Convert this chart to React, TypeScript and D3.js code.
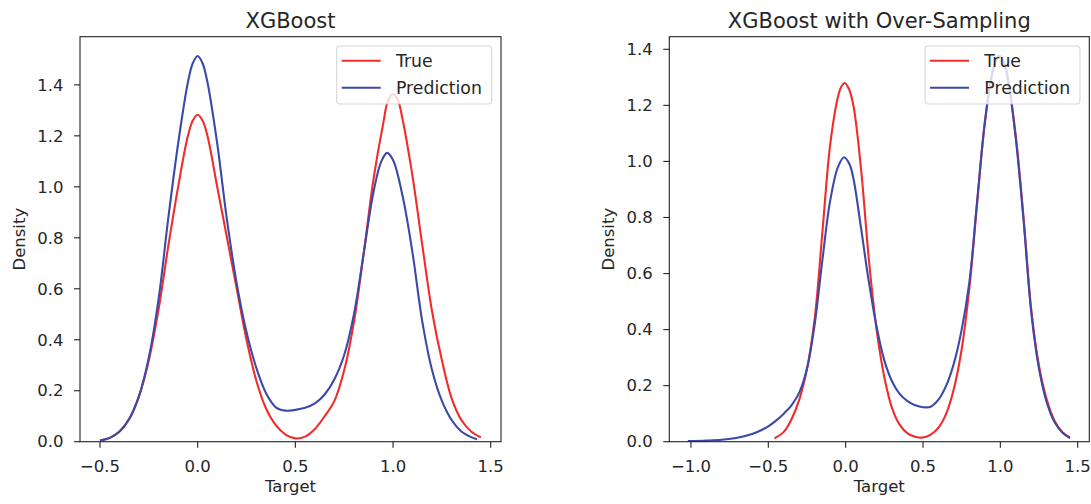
import React from "react";
import * as d3 from "d3";

// ---------- data ----------
const leftTrueX = [-0.5, -0.45, -0.4, -0.35, -0.3, -0.25, -0.2, -0.15, -0.1, -0.05, -0.025, 0, 0.025, 0.05, 0.1, 0.15, 0.2, 0.25, 0.3, 0.35, 0.4, 0.45, 0.5, 0.55, 0.6, 0.65, 0.7, 0.75, 0.8, 0.85, 0.9, 0.95, 0.975, 1.0, 1.025, 1.05, 1.1, 1.15, 1.2, 1.25, 1.3, 1.35, 1.4, 1.45];
const leftTrueY = [0.005, 0.015, 0.04, 0.09, 0.18, 0.32, 0.52, 0.77, 1.0, 1.2, 1.26, 1.283, 1.26, 1.2, 1.0, 0.8, 0.6, 0.4, 0.24, 0.13, 0.065, 0.028, 0.013, 0.02, 0.05, 0.1, 0.16, 0.28, 0.47, 0.74, 1.03, 1.25, 1.34, 1.364, 1.34, 1.26, 1.04, 0.77, 0.51, 0.32, 0.17, 0.085, 0.04, 0.017];

const leftPredX = [-0.5, -0.45, -0.4, -0.35, -0.3, -0.25, -0.2, -0.15, -0.1, -0.05, -0.025, 0, 0.025, 0.05, 0.1, 0.15, 0.2, 0.25, 0.3, 0.35, 0.4, 0.45, 0.5, 0.55, 0.6, 0.65, 0.7, 0.75, 0.8, 0.85, 0.9, 0.94, 0.97, 1.0, 1.05, 1.1, 1.15, 1.2, 1.25, 1.3, 1.35, 1.4, 1.43];
const leftPredY = [0.005, 0.015, 0.04, 0.09, 0.18, 0.33, 0.56, 0.88, 1.17, 1.41, 1.485, 1.513, 1.485, 1.41, 1.17, 0.87, 0.62, 0.43, 0.29, 0.19, 0.135, 0.122, 0.125, 0.133, 0.15, 0.185, 0.245, 0.34, 0.5, 0.74, 0.98, 1.1, 1.133, 1.105, 0.96, 0.74, 0.47, 0.28, 0.16, 0.085, 0.04, 0.018, 0.01];

const rightTrueX = [-0.46, -0.4, -0.35, -0.3, -0.25, -0.2, -0.15, -0.1, -0.05, -0.03, -0.007, 0.02, 0.05, 0.1, 0.15, 0.2, 0.25, 0.3, 0.35, 0.4, 0.45, 0.5, 0.55, 0.6, 0.65, 0.7, 0.75, 0.8, 0.85, 0.9, 0.95, 0.975, 1.0, 1.025, 1.05, 1.1, 1.15, 1.2, 1.25, 1.3, 1.35, 1.4, 1.45];
const rightTrueY = [0.012, 0.035, 0.08, 0.15, 0.26, 0.44, 0.75, 1.06, 1.23, 1.265, 1.28, 1.26, 1.2, 0.97, 0.65, 0.4, 0.23, 0.12, 0.06, 0.03, 0.018, 0.015, 0.025, 0.05, 0.1, 0.19, 0.33, 0.55, 0.85, 1.14, 1.32, 1.365, 1.376, 1.35, 1.29, 1.09, 0.8, 0.47, 0.27, 0.15, 0.075, 0.035, 0.015];

const rightPredX = [-1.02, -0.9, -0.8, -0.7, -0.6, -0.55, -0.5, -0.45, -0.4, -0.35, -0.3, -0.25, -0.2, -0.15, -0.1, -0.05, -0.01, 0.025, 0.05, 0.1, 0.15, 0.2, 0.25, 0.3, 0.35, 0.4, 0.45, 0.5, 0.55, 0.6, 0.65, 0.7, 0.75, 0.8, 0.85, 0.9, 0.95, 0.99, 1.025, 1.05, 1.1, 1.15, 1.2, 1.25, 1.3, 1.35, 1.4, 1.45];
const rightPredY = [0.002, 0.004, 0.007, 0.014, 0.028, 0.04, 0.055, 0.075, 0.1, 0.13, 0.175, 0.26, 0.42, 0.65, 0.86, 0.98, 1.015, 0.99, 0.94, 0.76, 0.57, 0.41, 0.29, 0.215, 0.17, 0.145, 0.13, 0.123, 0.125, 0.15, 0.2, 0.28, 0.4, 0.57, 0.86, 1.14, 1.32, 1.376, 1.35, 1.29, 1.08, 0.79, 0.46, 0.26, 0.14, 0.07, 0.033, 0.013];

const titles = ["XGBoost", "XGBoost with Over-Sampling"];
const leftXTicks = [-0.5, 0.0, 0.5, 1.0, 1.5];
const rightXTicks = [-1.0, -0.5, 0.0, 0.5, 1.0, 1.5];
const yTicks = [0.0, 0.2, 0.4, 0.6, 0.8, 1.0, 1.2, 1.4];
const legendLabels = ["True", "Prediction"];
const xLabel = "Target";
const yLabel = "Density";

const RED = "#f22b2b";
const BLUE = "#3b4aa8";
const FONT = "'DejaVu Sans', sans-serif";

type Panel = {
  left: number;
  right: number;
  xDomain: [number, number];
  yMax: number;
  xTicks: number[];
  title: string;
  series: { x: number[]; y: number[]; color: string }[];
};

const TOP = 36.7;
const BOTTOM = 441.7;

const panels: Panel[] = [
  {
    left: 80,
    right: 501,
    xDomain: [-0.6024, 1.5527],
    yMax: 1.589,
    xTicks: leftXTicks,
    title: titles[0],
    series: [
      { x: leftTrueX, y: leftTrueY, color: RED },
      { x: leftPredX, y: leftPredY, color: BLUE },
    ],
  },
  {
    left: 669.3,
    right: 1089.3,
    xDomain: [-1.14, 1.575],
    yMax: 1.445,
    xTicks: rightXTicks,
    title: titles[1],
    series: [
      { x: rightTrueX, y: rightTrueY, color: RED },
      { x: rightPredX, y: rightPredY, color: BLUE },
    ],
  },
];

const fmt = d3.format(".1f");

function PanelView({ p, idx }: { p: Panel; idx: number }) {
  const x = d3.scaleLinear().domain(p.xDomain).range([p.left, p.right]);
  const y = d3.scaleLinear().domain([0, p.yMax]).range([BOTTOM, TOP]);
  const line = d3
    .line<[number, number]>()
    .x((d) => x(d[0]))
    .y((d) => y(d[1]))
    .curve(d3.curveCatmullRom.alpha(0.5));
  const cx = (p.left + p.right) / 2;
  const cy = (TOP + BOTTOM) / 2;
  const legW = 155;
  const legX = p.right - 9.3 - legW;
  const legY = 46;
  const yTicksShown = yTicks.filter((t) => t <= p.yMax);
  return (
    <g>
      <defs>
        <clipPath id={`clip${idx}`}>
          <rect x={p.left} y={TOP} width={p.right - p.left} height={BOTTOM - TOP} />
        </clipPath>
      </defs>
      <g clipPath={`url(#clip${idx})`}>
        {p.series.map((s, i) => (
          <path
            key={i}
            d={line(s.x.map((v, k) => [v, s.y[k]] as [number, number])) || ""}
            fill="none"
            stroke={s.color}
            strokeWidth={2.1}
            strokeLinejoin="round"
            strokeLinecap="butt"
          />
        ))}
      </g>
      <rect
        x={p.left}
        y={TOP}
        width={p.right - p.left}
        height={BOTTOM - TOP}
        fill="none"
        stroke="#222"
        strokeWidth={1.1}
      />
      {p.xTicks.map((t) => (
        <g key={t}>
          <line x1={x(t)} x2={x(t)} y1={BOTTOM} y2={BOTTOM + 6} stroke="#222" strokeWidth={1.1} />
          <text x={x(t)} y={BOTTOM + 30} textAnchor="middle" fontSize={16.5} fill="#262626" fontFamily={FONT}>
            {fmt(t)}
          </text>
        </g>
      ))}
      {yTicksShown.map((t) => (
        <g key={t}>
          <line x1={p.left - 6} x2={p.left} y1={y(t)} y2={y(t)} stroke="#222" strokeWidth={1.1} />
          <text
            x={p.left - 16.5}
            y={y(t)}
            dy="0.35em"
            textAnchor="end"
            fontSize={16.5}
            fill="#262626"
            fontFamily={FONT}
          >
            {fmt(t)}
          </text>
        </g>
      ))}
      <text x={cx} y={28} textAnchor="middle" fontSize={21} fill="#262626" fontFamily={FONT}>
        {p.title}
      </text>
      <text x={cx} y={492} textAnchor="middle" fontSize={16.5} fill="#262626" fontFamily={FONT}>
        {xLabel}
      </text>
      <text
        transform={`translate(${p.left - 55},${cy}) rotate(-90)`}
        textAnchor="middle"
        fontSize={16.5}
        fill="#262626"
        fontFamily={FONT}
      >
        {yLabel}
      </text>
      <rect
        x={legX}
        y={legY}
        width={legW}
        height={58}
        rx={3.5}
        fill="#fff"
        fillOpacity={0.8}
        stroke="#cccccc"
        strokeOpacity={0.8}
        strokeWidth={1.1}
      />
      {legendLabels.map((lab, i) => (
        <g key={lab}>
          <line
            x1={legX + 5}
            x2={legX + 44}
            y1={legY + 14.7 + i * 27}
            y2={legY + 14.7 + i * 27}
            stroke={p.series[i].color}
            strokeWidth={2.1}
          />
          <text
            x={legX + 59.3}
            y={legY + 14.7 + i * 27}
            dy="0.35em"
            fontSize={17.3}
            fill="#262626"
            fontFamily={FONT}
          >
            {lab}
          </text>
        </g>
      ))}
    </g>
  );
}

export default function App() {
  return (
    <div style={{ position: "absolute", left: 0, top: 0, width: 1091, height: 504, background: "#fff" }}>
      <svg width={1091} height={504} viewBox="0 0 1091 504" style={{ display: "block" }}>
        <rect x={0} y={0} width={1091} height={504} fill="#fff" />
        {panels.map((p, i) => (
          <PanelView key={i} p={p} idx={i} />
        ))}
      </svg>
    </div>
  );
}
